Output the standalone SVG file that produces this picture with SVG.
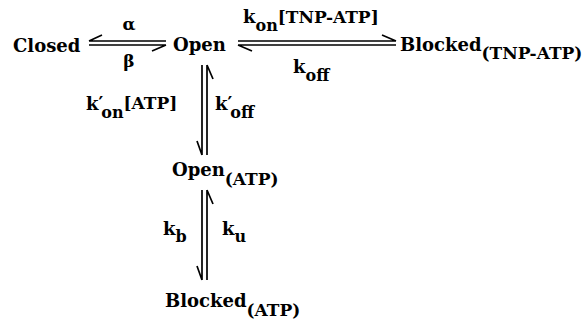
<svg xmlns="http://www.w3.org/2000/svg" width="586" height="324" viewBox="0 0 586 324">
<style>
text{font-family:"DejaVu Serif","Liberation Serif",serif;font-weight:bold;fill:#000;}
.n{font-size:18px;}
.p{font-size:17px;}
.s{font-size:16px;}
.l{font-size:17px;}
.ln{stroke:#000;stroke-width:1.7;fill:none;}
</style>
<rect width="586" height="324" fill="#fff"/>
<g id="closed"><text class="n" x="13" y="52">Closed</text></g>
<g id="open"><text class="n" x="173" y="51">Open</text></g>
<g id="blocked-tnp-atp"><text class="n" x="400" y="51">Blocked<tspan class="p" dy="8">(TNP-ATP)</tspan></text></g>
<g id="open-atp"><text class="n" x="172" y="176">Open<tspan class="p" dy="9">(ATP)</tspan></text></g>
<g id="blocked-atp"><text class="n" x="165" y="307">Blocked<tspan class="p" dy="9">(ATP)</tspan></text></g>
<g id="connectors">
<path class="ln" d="M89 41H166M89 41L102 35M89 45H166M166 45L152 51"/>
<path class="ln" d="M238 41H396M396 41L382 35M238 45H396M238 45L252 51"/>
<path class="ln" d="M202 65V155M202 155L197 141M207 65V155M207 65L213 79"/>
<path class="ln" d="M202 190V280M202 280L197 266M207 190V280M207 190L213 204"/>
</g>
<g id="labels">
<text class="l" x="129" y="30" text-anchor="middle">α</text>
<text class="l" x="129" y="67" text-anchor="middle">β</text>
<text class="n" x="243" y="23">k<tspan class="s" dy="8">on</tspan><tspan class="p" dy="-8">[TNP-ATP]</tspan></text>
<text class="n" x="293" y="73">k<tspan class="s" dy="8">off</tspan></text>
<text class="n" x="86" y="110">k′<tspan class="s" dx="-2" dy="8">on</tspan><tspan class="p" dy="-9">[ATP]</tspan></text>
<text class="n" x="215" y="110">k′<tspan class="s" dx="-2" dy="8">off</tspan></text>
<text class="n" x="163" y="235">k<tspan class="s" dy="7">b</tspan></text>
<text class="n" x="222" y="235">k<tspan class="s" dy="7">u</tspan></text>
</g>
</svg>
